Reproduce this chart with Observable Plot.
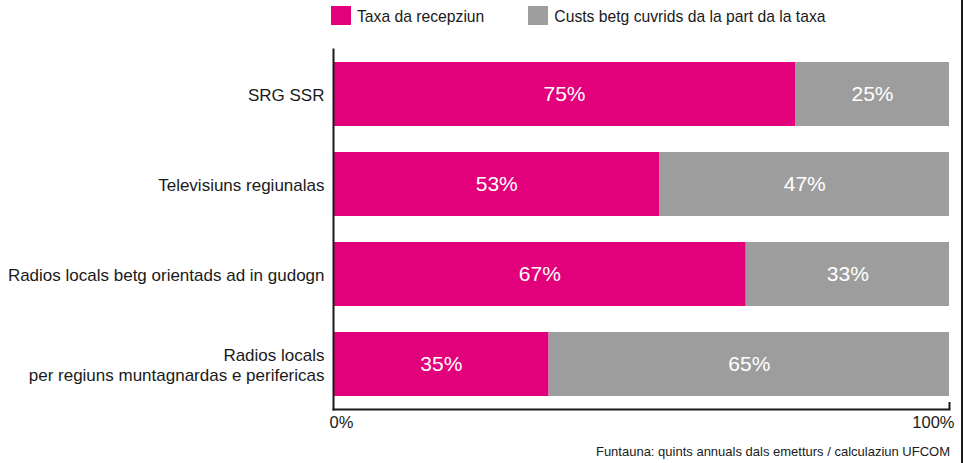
<!DOCTYPE html>
<html>
<head>
<meta charset="utf-8">
<script src="https://cdn.jsdelivr.net/npm/d3@7"></script>
<script src="https://cdn.jsdelivr.net/npm/@observablehq/plot@0.6"></script>
<style>
  html, body { margin: 0; padding: 0; background: #fff; }
  body { width: 964px; height: 463px; position: relative; overflow: hidden;
         font-family: "Liberation Sans", Arial, Helvetica, sans-serif; color: #1a1a1a; }
  #chart { position: absolute; left: 0; top: 0; }
  .legend { position: absolute; top: 6px; left: 331px; display: flex; align-items: center; font-size: 15.7px; }
  .legend .item { display: flex; align-items: center; }
  .legend .sw { width: 20px; height: 19px; margin-right: 6px; }
  .legend span { position: relative; top: 1px; }
  .caption { position: absolute; right: 14px; top: 444px; font-size: 13px; }
  .edge { position: absolute; left: 961px; top: 0; width: 2px; height: 463px; background: #1a1a1a; }
</style>
</head>
<body>
<div id="chart"></div>
<div class="legend" id="legend"></div>
<div class="caption" id="caption"></div>
<div class="edge"></div>
<script>
const categories = [
  "SRG SSR",
  "Televisiuns regiunalas",
  "Radios locals betg orientads ad in gudogn",
  "Radios locals\nper regiuns muntagnardas e perifericas"
];
const seriesNames = ["Taxa da recepziun", "Custs betg cuvrids da la part da la taxa"];
const taxaValues = [75, 53, 67, 35];
const custsValues = [25, 47, 33, 65];
const seriesColors = ["#e3007b", "#9d9d9d"];
const xTickLabels = [0, 100];
const captionText = "Funtauna: quints annuals dals emetturs / calculaziun UFCOM";

const data = [];
categories.forEach((c, i) => {
  data.push({cat: c, series: seriesNames[0], value: taxaValues[i]});
  data.push({cat: c, series: seriesNames[1], value: custsValues[i]});
});

const font = "'Liberation Sans', Arial, Helvetica, sans-serif";

const chart = Plot.plot({
  width: 964,
  height: 463,
  marginLeft: 333,
  marginRight: 15,
  marginTop: 49,
  marginBottom: 54,
  style: {fontFamily: font, fontSize: "15px", color: "#1a1a1a", background: "white"},
  x: {domain: [0, 100], axis: null},
  y: {domain: categories, paddingInner: 0.29, paddingOuter: 0.145, label: null},
  color: {domain: seriesNames, range: seriesColors},
  marks: [
    Plot.barX(data, {x: "value", y: "cat", fill: "series", inset: 0}),
    Plot.text(data, Plot.stackX({x: "value", y: "cat", text: d => d.value + "%", fill: "white", fontSize: 21})),
    Plot.axisY({tickSize: 0, tickPadding: 9, fontSize: 17, lineHeight: 1.2, label: null}),
    Plot.frame({anchor: "left", stroke: "#1a1a1a", strokeWidth: 2}),
    Plot.frame({anchor: "bottom", stroke: "#1a1a1a", strokeWidth: 2}),
    Plot.axisX({ticks: [100], tickSize: -7, tickFormat: () => "", label: null, strokeWidth: 2, stroke: "#1a1a1a"}),
    Plot.text([xTickLabels[0]], {x: d => d, frameAnchor: "bottom", dy: 18, textAnchor: "start", dx: -4, text: d => d + "%", fontSize: 16.5}),
    Plot.text([xTickLabels[1]], {x: d => d, frameAnchor: "bottom", dy: 18, textAnchor: "end", dx: 5, text: d => d + "%", fontSize: 16.5})
  ]
});
document.getElementById("chart").appendChild(chart);

const legend = document.getElementById("legend");
seriesNames.forEach((name, i) => {
  const item = document.createElement("div");
  item.className = "item";
  item.style.marginRight = i === 0 ? "44px" : "0";
  const sw = document.createElement("div");
  sw.className = "sw";
  sw.style.background = seriesColors[i];
  const t = document.createElement("span");
  t.textContent = name;
  item.appendChild(sw);
  item.appendChild(t);
  legend.appendChild(item);
});
document.getElementById("caption").textContent = captionText;
</script>
</body>
</html>
